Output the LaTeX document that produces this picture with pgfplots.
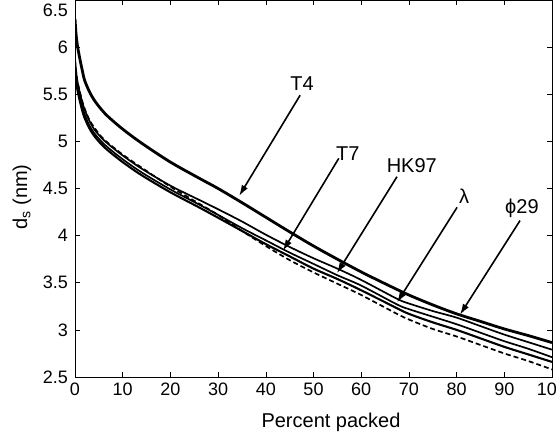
\documentclass[border=0pt]{standalone}
\usepackage{fontspec}
\setmainfont{Liberation Sans}
\usepackage{pgfplots}
\pgfplotsset{compat=1.18}
\usetikzlibrary{arrows.meta}

\begin{document}
\begin{tikzpicture}[x=1pt,y=1pt]
\begin{axis}[
    name=ax, at={(0,0)}, anchor=south west,
    scale only axis, width=477pt, height=377pt,
    xmin=0, xmax=100, ymin=2.5, ymax=6.5,
    xtick={0,10,...,100},
    ytick={2.5,3,3.5,4,4.5,5,5.5,6,6.5},
    yticklabels={2.5,3,3.5,4,4.5,5,5.5,6,},
    tick align=inside, major tick length=5pt,
    tick style={black, line width=0.6pt},
    axis line style={black, line width=0.8pt},
    /pgf/number format/assume math mode=true,
    ticklabel style={font=\fontsize{18}{18}\selectfont, inner sep=0pt},
    xticklabel style={yshift=-6pt},
    yticklabel style={xshift=-7pt},
    every axis plot/.append style={smooth, tension=0.5},
]
    % T4
    \addplot[black, line width=2.8pt] coordinates {
        (0,6.30) (0.2,6.15) (0.5,6.02) (1,5.88) (1.5,5.76) (2,5.65)
        (3,5.53) (4,5.44) (5.5,5.34) (7,5.26) (10,5.13)
        (14,4.98) (20,4.78) (26,4.61) (30,4.50) (35,4.35) (40,4.195)
        (45,4.04) (50,3.89) (55,3.75) (60,3.615) (65,3.49) (70,3.37)
        (75,3.265) (80,3.17) (85,3.09) (90,3.01) (95,2.94) (100,2.865)
    };
    % phi29
    \addplot[black, line width=1.7pt] coordinates {
        (0,5.88) (0.2,5.76) (0.5,5.64) (1,5.52) (1.5,5.42) (2,5.34)
        (3,5.22) (4,5.13) (5.5,5.04) (7,4.97) (10,4.85)
        (14,4.71) (20,4.53) (26,4.38) (30,4.28) (35,4.15) (40,4.01)
        (45,3.88) (50,3.76) (55,3.65) (60,3.53) (67.5,3.33) (70,3.28)
        (75,3.20) (80,3.13) (85,3.04) (90,2.95) (95,2.87) (100,2.79)
    };
    % lambda
    \addplot[black, line width=1.7pt] coordinates {
        (0,5.82) (0.2,5.70) (0.5,5.59) (1,5.47) (1.5,5.37) (2,5.29)
        (3,5.17) (4,5.09) (5.5,5.00) (7,4.93) (10,4.81)
        (14,4.67) (20,4.49) (26,4.33) (30,4.22) (35,4.08) (40,3.95)
        (45,3.82) (50,3.70) (55,3.58) (60,3.47) (67.5,3.27) (70,3.22)
        (75,3.14) (80,3.06) (85,2.97) (90,2.88) (95,2.80) (100,2.71)
    };
    % HK97
    \addplot[black, line width=2.1pt] coordinates {
        (0,5.78) (0.2,5.66) (0.5,5.55) (1,5.43) (1.5,5.33) (2,5.25)
        (3,5.14) (4,5.06) (5.5,4.97) (7,4.90) (10,4.78)
        (14,4.64) (20,4.46) (26,4.30) (30,4.19) (35,4.05) (40,3.91)
        (45,3.78) (50,3.65) (55,3.54) (60,3.42) (67.5,3.23) (70,3.17)
        (75,3.08) (80,3.00) (85,2.91) (90,2.82) (95,2.74) (100,2.66)
    };
    % T7
    \addplot[black, line width=1.7pt, dash pattern=on 5pt off 3pt] coordinates {
        (0,5.86) (0.2,5.75) (0.5,5.64) (1,5.53) (1.5,5.43) (2,5.35)
        (3,5.23) (4,5.15) (5.5,5.05) (7,4.98) (10,4.86)
        (14,4.72) (20,4.52) (26,4.34) (30,4.22) (35,4.05) (40,3.89)
        (45,3.74) (50,3.61) (55,3.49) (60,3.37) (67.5,3.17) (70,3.11)
        (75,3.01) (80,2.93) (85,2.84) (90,2.75) (95,2.67) (100,2.58)
    };

    % annotations
    \begin{scope}[line width=1.6pt, -{Latex[length=11pt,width=7pt]},
                  every node/.style={font=\fontsize{20}{20}\selectfont}]
        \draw (axis cs:47.2,5.49) -- (axis cs:34.4,4.42);
        \node at (axis cs:47.6,5.61) {T4};
        \draw (axis cs:55.3,4.82) -- (axis cs:43.6,3.84);
        \node at (axis cs:57.2,4.87) {T7};
        \draw (axis cs:67.5,4.625) -- (axis cs:54.9,3.60);
        \node at (axis cs:70.6,4.74) {HK97};
        \draw (axis cs:80.1,4.30) -- (axis cs:67.5,3.29);
        \node at (axis cs:81.6,4.42) {λ};
        \draw (axis cs:93.3,4.16) -- (axis cs:80.7,3.16);
        \node at (axis cs:93.7,4.29) {ϕ29};
    \end{scope}
\end{axis}
\node[anchor=east, inner sep=0pt, font=\fontsize{18}{18}\selectfont] at (-7,367) {6.5};
\node[font=\fontsize{20}{20}\selectfont] at (256,-45) {Percent packed};
\node[rotate=90, font=\fontsize{20}{20}\selectfont] at (-53,180) {d\textsubscript{s} (nm)};
\pgfresetboundingbox
\path (-75,-60) rectangle (481,377);
\end{tikzpicture}
\end{document}
